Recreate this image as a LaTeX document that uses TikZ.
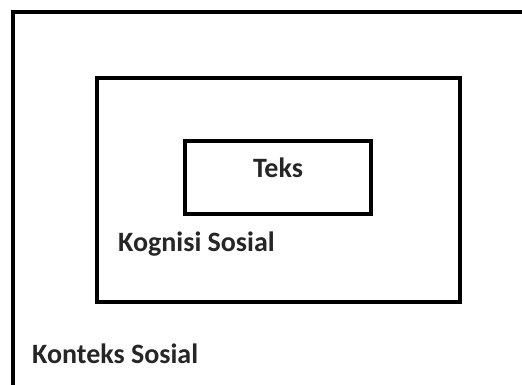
\documentclass[tikz,border=0pt]{standalone}
\usepackage{fontspec}
\setmainfont{Carlito}
\begin{document}
\begin{tikzpicture}[x=1pt,y=1pt,
  frame/.style={draw=black,line width=3.5pt},
  boxnode/.style={draw=black,line width=3.2pt,inner sep=0pt,outer sep=0pt},
  lbl/.style={inner sep=0pt,text=black!85,font=\bfseries\fontsize{28}{32}\selectfont}]
\useasboundingbox (0,0) rectangle (522,385);
\fill[white] (0,0) rectangle (522,385);
\clip (0,0) rectangle (522,385);
\draw[frame] (13,-10) -- (13,373) -- (540,373);
\node[boxnode,minimum width=363pt,minimum height=224pt] (sosial) at (278.5,195) {};
\node[boxnode,minimum width=186pt,minimum height=73pt] (teksbox) at (278,207.5) {};
\node[lbl] (teks) at (278,217) {Teks};
\node[lbl,anchor=west] (kognisi) at (118,141) {Kognisi Sosial};
\node[lbl,anchor=west] (konteks) at (32,31) {Konteks Sosial};
\end{tikzpicture}
\end{document}
